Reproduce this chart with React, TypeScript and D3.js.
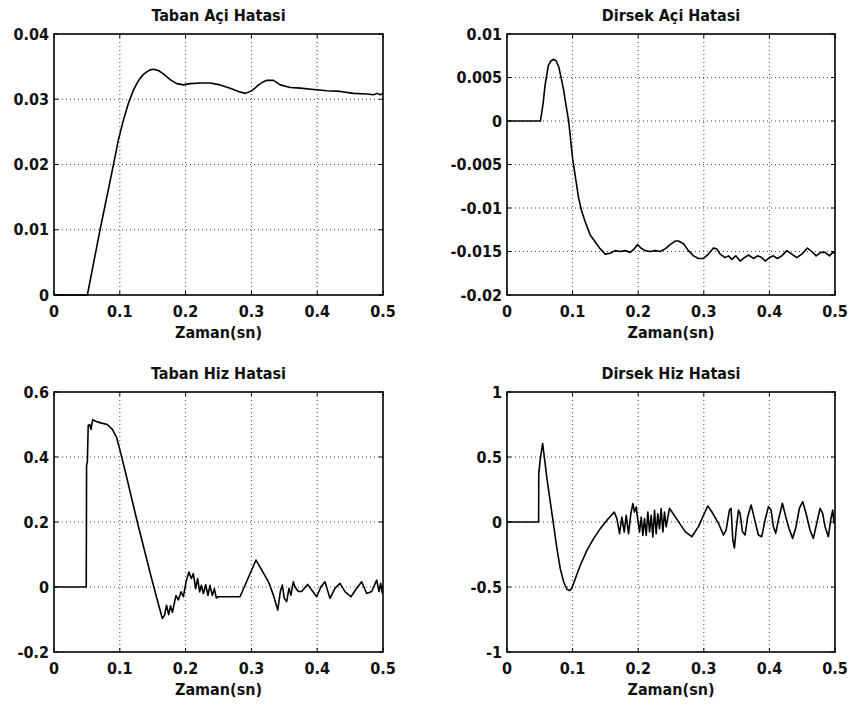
import React from "react";
import * as d3 from "d3";

const xTicks = [0, 0.1, 0.2, 0.3, 0.4, 0.5];
const xTickLabels = ["0", "0.1", "0.2", "0.3", "0.4", "0.5"];

const tabanAciTicks = [0, 0.01, 0.02, 0.03, 0.04];
const tabanAciTickLabels = ["0", "0.01", "0.02", "0.03", "0.04"];
const dirsekAciTicks = [-0.02, -0.015, -0.01, -0.005, 0, 0.005, 0.01];
const dirsekAciTickLabels = ["-0.02", "-0.015", "-0.01", "-0.005", "0", "0.005", "0.01"];
const tabanHizTicks = [-0.2, 0, 0.2, 0.4, 0.6];
const tabanHizTickLabels = ["-0.2", "0", "0.2", "0.4", "0.6"];
const dirsekHizTicks = [-1, -0.5, 0, 0.5, 1];
const dirsekHizTickLabels = ["-1", "-0.5", "0", "0.5", "1"];

const tabanAciData: [number, number][] = [
  [0, 0], [0.0507, 0], [0.07, 0.01], [0.0903, 0.01995], [0.0979, 0.0238], [0.1055, 0.0268],
  [0.1131, 0.0294], [0.1207, 0.0314], [0.1258, 0.0324], [0.1308, 0.0332], [0.136, 0.0338],
  [0.141, 0.0342], [0.146, 0.0345], [0.1511, 0.0346],
  [0.1587, 0.0344], [0.1663, 0.0339], [0.1765, 0.033], [0.1866, 0.0324], [0.1968, 0.0322],
  [0.2069, 0.0324], [0.2221, 0.0325], [0.2373, 0.0325], [0.2525, 0.0322], [0.2677, 0.0317],
  [0.2804, 0.0312], [0.2906, 0.0309], [0.3007, 0.0313], [0.3109, 0.0322], [0.3185, 0.0327],
  [0.3235, 0.0329], [0.3337, 0.0329], [0.3438, 0.0322], [0.359, 0.0318], [0.3742, 0.0317],
  [0.3945, 0.0315], [0.4148, 0.0313], [0.4351, 0.0312], [0.4554, 0.0309], [0.4757, 0.0308],
  [0.4858, 0.0307], [0.4909, 0.0309], [0.4959, 0.0307], [0.5, 0.0309],
];

const dirsekAciData: [number, number][] = [
  [0, 0], [0.051, 0], [0.055, 0.002], [0.058, 0.0041], [0.063, 0.0064], [0.067, 0.0069],
  [0.071, 0.0071], [0.075, 0.0069], [0.079, 0.0062], [0.083, 0.0048], [0.086, 0.0037],
  [0.09, 0.0018], [0.094, 0], [0.1, -0.0043], [0.105, -0.0068], [0.109, -0.0088],
  [0.114, -0.0104], [0.1193, -0.0116], [0.1269, -0.0131], [0.1345, -0.0139], [0.1421, -0.0147],
  [0.1497, -0.0153],
  [0.1573, -0.0152], [0.165, -0.0149], [0.1726, -0.015], [0.1802, -0.0149], [0.1878, -0.0151],
  [0.1939, -0.0147], [0.199, -0.0142], [0.2041, -0.0146], [0.2106, -0.0149], [0.2183, -0.015],
  [0.2259, -0.0149], [0.2335, -0.015], [0.2411, -0.0147], [0.2487, -0.0142], [0.2563, -0.0138],
  [0.2614, -0.0138], [0.269, -0.0141], [0.2766, -0.0149], [0.2843, -0.0155], [0.2919, -0.0158],
  [0.2995, -0.0158], [0.3071, -0.0153], [0.3147, -0.0146], [0.3198, -0.0147], [0.3249, -0.0153],
  [0.3325, -0.0157], [0.3376, -0.0155], [0.3427, -0.0159], [0.3488, -0.0155], [0.3554, -0.0161],
  [0.362, -0.0157], [0.3681, -0.0154], [0.3757, -0.0158], [0.3818, -0.0155], [0.3884, -0.0157],
  [0.3935, -0.0161], [0.4001, -0.0157], [0.4062, -0.0155], [0.4123, -0.0158], [0.4189, -0.0155],
  [0.4265, -0.0149], [0.4341, -0.0153], [0.4417, -0.0157], [0.4494, -0.0153], [0.458, -0.0146],
  [0.4646, -0.015], [0.4712, -0.0155], [0.4783, -0.0151], [0.4849, -0.0151], [0.4915, -0.0155],
  [0.4966, -0.0151], [0.5, -0.0152],
];

const tabanHizData: [number, number][] = [
  [0, 0], [0.049, 0], [0.0495, 0.374], [0.0507, 0.385], [0.052, 0.497], [0.0542, 0.5],
  [0.0562, 0.485], [0.0588, 0.515], [0.0633, 0.51], [0.0709, 0.505], [0.081, 0.5],
  [0.0887, 0.485], [0.0952, 0.46], [0.101, 0.415], [0.109, 0.35], [0.1266, 0.2],
  [0.147, 0.036], [0.157, -0.04], [0.1646, -0.097], [0.168, -0.087], [0.171, -0.056],
  [0.1743, -0.085], [0.177, -0.058], [0.18, -0.078], [0.1854, -0.026], [0.189, -0.04],
  [0.193, -0.015], [0.1966, -0.03], [0.2006, 0.015], [0.205, 0.046], [0.2087, 0.026],
  [0.2118, 0.041], [0.2153, -0.005], [0.2183, 0.026], [0.2214, -0.015], [0.2239, 0.005],
  [0.227, -0.02], [0.2305, 0.007], [0.234, -0.026], [0.237, 0.005], [0.2406, -0.026],
  [0.2437, -0.005], [0.2467, -0.034], [0.2497, -0.03], [0.2827, -0.03], [0.307, 0.083],
  [0.326, 0.016], [0.3334, -0.025], [0.34, -0.071], [0.344, -0.014], [0.347, 0.006],
  [0.35, -0.035], [0.3536, -0.045], [0.3571, -0.004], [0.36, -0.025], [0.3637, 0.016],
  [0.3662, 0.001], [0.3713, -0.014], [0.3764, -0.014], [0.3855, 0.008], [0.3916, -0.009],
  [0.3992, -0.03], [0.4058, 0.001], [0.4118, 0.016], [0.4194, -0.035], [0.427, -0.004],
  [0.4346, 0.011], [0.4422, -0.014], [0.4513, -0.03], [0.46, -0.004], [0.4676, 0.016],
  [0.4752, -0.02], [0.4828, -0.014], [0.4904, 0.021], [0.494, -0.014], [0.4965, 0.011],
  [0.499, -0.02],
];

const dirsekHizData: [number, number][] = [
  [0, 0], [0.0482, 0], [0.0484, 0.372], [0.0508, 0.487], [0.0543, 0.603], [0.0569, 0.5],
  [0.0609, 0.333], [0.066, 0.154], [0.0711, -0.026], [0.0761, -0.205], [0.0812, -0.359],
  [0.0863, -0.46], [0.0914, -0.518], [0.0954, -0.528], [0.099, -0.508], [0.1041, -0.436],
  [0.1117, -0.333], [0.1218, -0.218], [0.132, -0.128], [0.1421, -0.051], [0.1523, 0.013],
  [0.1599, 0.056], [0.1635, 0.077], [0.1675, 0.026], [0.1716, -0.09], [0.1751, 0.038],
  [0.1787, -0.077], [0.1817, 0.051], [0.1853, -0.09], [0.1888, 0.064], [0.1919, 0.141],
  [0.1944, 0.077], [0.197, 0.115], [0.1995, 0.013], [0.202, -0.077], [0.2046, 0.038],
  [0.2071, -0.103], [0.2096, 0.026], [0.2122, -0.103], [0.2147, 0.077], [0.2173, -0.077],
  [0.2198, 0.051], [0.2223, -0.115], [0.2249, 0.09], [0.2274, -0.09], [0.2299, 0.064],
  [0.2325, -0.051], [0.235, 0.103], [0.2376, -0.077], [0.2401, 0.077], [0.2426, -0.038],
  [0.2477, 0.105], [0.2513, 0.079], [0.2614, 0.003], [0.2716, -0.074], [0.2817, -0.113],
  [0.2918, -0.036], [0.301, 0.067], [0.306, 0.123], [0.3122, 0.079], [0.3223, -0.01],
  [0.3299, -0.1], [0.334, -0.062], [0.3391, 0.092], [0.3416, 0.105], [0.3442, -0.138],
  [0.3467, -0.2], [0.3492, -0.062], [0.3528, 0.092], [0.3553, 0.067], [0.3589, -0.074],
  [0.3629, -0.1], [0.367, 0.041], [0.3721, 0.131], [0.3771, 0.028], [0.3832, -0.1],
  [0.3883, -0.113], [0.3934, 0.015], [0.3985, 0.118], [0.4025, 0.092], [0.4061, -0.036],
  [0.4096, -0.087], [0.4137, 0.015], [0.4198, 0.144], [0.4249, 0.041], [0.4299, -0.05],
  [0.4355, -0.126], [0.4406, -0.036], [0.4457, 0.105], [0.4508, 0.156], [0.4558, 0.067],
  [0.4619, -0.062], [0.467, -0.126], [0.4721, -0.01], [0.4772, 0.105], [0.4812, 0.067],
  [0.4848, -0.036], [0.4899, -0.113], [0.4934, 0.015], [0.4965, 0.092], [0.4985, -0.01],
];

type PanelSpec = {
  title: string;
  data: [number, number][];
  yDomain: [number, number];
  yTicks: number[];
  yTickLabels: string[];
  left: number;
  right: number;
  top: number;
  bottom: number;
};

const FONT = "'DejaVu Sans Condensed', 'DejaVu Sans', sans-serif";

function Panel({ spec }: { spec: PanelSpec }) {
  const x = d3.scaleLinear().domain([0, 0.5]).range([spec.left, spec.right]);
  const y = d3.scaleLinear().domain(spec.yDomain).range([spec.bottom, spec.top]);
  const line = d3
    .line<[number, number]>()
    .x((d) => x(d[0]))
    .y((d) => y(d[1]))
    .curve(d3.curveLinear);
  const tick = 4;
  const cx = (spec.left + spec.right) / 2;
  return (
    <g>
      {xTicks.slice(1, -1).map((t) => (
        <line key={"gx" + t} x1={x(t)} x2={x(t)} y1={spec.top} y2={spec.bottom}
          stroke="#444" strokeWidth={1} strokeDasharray="1,3" />
      ))}
      {spec.yTicks.slice(1, -1).map((t) => (
        <line key={"gy" + t} x1={spec.left} x2={spec.right} y1={y(t)} y2={y(t)}
          stroke="#444" strokeWidth={1} strokeDasharray="1,3" />
      ))}
      {xTicks.map((t) => (
        <g key={"tx" + t}>
          <line x1={x(t)} x2={x(t)} y1={spec.bottom} y2={spec.bottom - tick} stroke="#000" />
          <line x1={x(t)} x2={x(t)} y1={spec.top} y2={spec.top + tick} stroke="#000" />
        </g>
      ))}
      {spec.yTicks.map((t) => (
        <g key={"ty" + t}>
          <line x1={spec.left} x2={spec.left + tick} y1={y(t)} y2={y(t)} stroke="#000" />
          <line x1={spec.right} x2={spec.right - tick} y1={y(t)} y2={y(t)} stroke="#000" />
        </g>
      ))}
      <path d={line(spec.data) || ""} fill="none" stroke="#000" strokeWidth={1.6}
        strokeLinejoin="round" />
      <rect x={spec.left} y={spec.top} width={spec.right - spec.left}
        height={spec.bottom - spec.top} fill="none" stroke="#000" strokeWidth={1.6} />
      <g fontFamily={FONT} fontSize={16} fontWeight="bold" fill="#111">
        {xTicks.map((t, i) => (
          <text key={"lx" + t} x={x(t)} y={spec.bottom + 22} textAnchor="middle">
            {xTickLabels[i]}
          </text>
        ))}
        {spec.yTicks.map((t, i) => (
          <text key={"ly" + t} x={spec.left - 5} y={y(t)} dy="0.35em" textAnchor="end">
            {spec.yTickLabels[i]}
          </text>
        ))}
        <text x={cx} y={spec.top - 13} textAnchor="middle">{spec.title}</text>
        <text x={cx} y={spec.bottom + 43} textAnchor="middle">Zaman(sn)</text>
      </g>
    </g>
  );
}

export default function App() {
  const panels: PanelSpec[] = [
    { title: "Taban Açi Hatasi", data: tabanAciData, yDomain: [0, 0.04], yTicks: tabanAciTicks,
      yTickLabels: tabanAciTickLabels, left: 54, right: 383, top: 34, bottom: 295 },
    { title: "Dirsek Açi Hatasi", data: dirsekAciData, yDomain: [-0.02, 0.01], yTicks: dirsekAciTicks,
      yTickLabels: dirsekAciTickLabels, left: 507, right: 835, top: 34, bottom: 295 },
    { title: "Taban Hiz Hatasi", data: tabanHizData, yDomain: [-0.2, 0.6], yTicks: tabanHizTicks,
      yTickLabels: tabanHizTickLabels, left: 54, right: 383, top: 392, bottom: 652 },
    { title: "Dirsek Hiz Hatasi", data: dirsekHizData, yDomain: [-1, 1], yTicks: dirsekHizTicks,
      yTickLabels: dirsekHizTickLabels, left: 507, right: 835, top: 392, bottom: 652 },
  ];
  return (
    <svg width={855} height={711} style={{ position: "absolute", left: 0, top: 0, background: "#fff" }}>
      <rect x={0} y={0} width={855} height={711} fill="#fff" />
      {panels.map((p) => (
        <Panel key={p.title} spec={p} />
      ))}
    </svg>
  );
}
